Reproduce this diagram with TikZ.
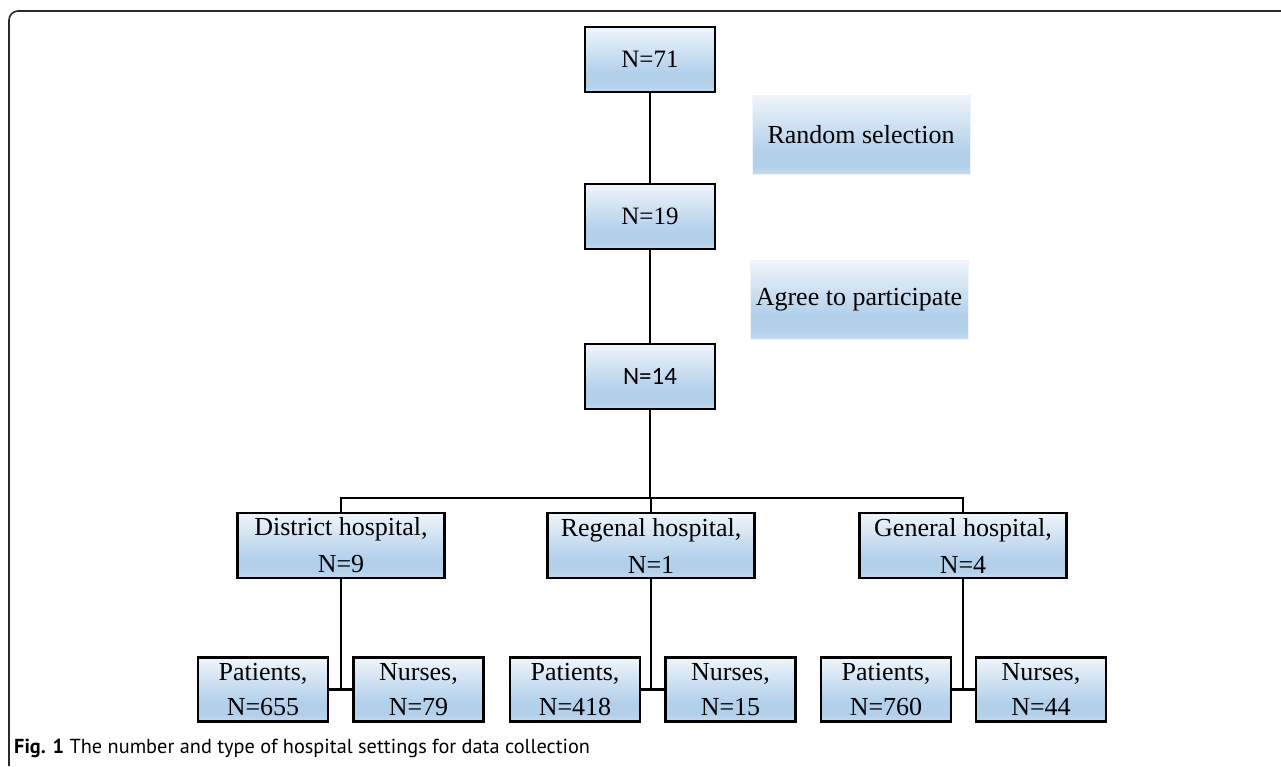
\documentclass[tikz,border=0pt]{standalone}
\usepackage{fontspec}
\setmainfont{Liberation Serif}
\newfontfamily\calfont{Carlito}
\newfontfamily\capfont{PT Sans}
\definecolor{bA}{HTML}{EFF5FB}
\definecolor{bC}{HTML}{B3D0EB}
\definecolor{bD}{HTML}{C6DCF0}
\definecolor{frameC}{HTML}{2A2A2A}
\pgfdeclareverticalshading{boxshade}{100bp}{color(0bp)=(bD); color(25bp)=(bD); color(30bp)=(bC); color(40bp)=(bC); color(75bp)=(bA); color(100bp)=(bA)}
\tikzset{
  box/.style={draw=black, line width=2.5pt, shading=boxshade, minimum width=130pt, minimum height=65pt,
    inner sep=0pt, align=center, font=\fontsize{26}{37}\selectfont},
  hbox/.style={box, minimum width=207pt},
  sbox/.style={box, minimum height=64pt, font=\fontsize{26}{35}\selectfont},
  note/.style={shading=boxshade, draw=bA, line width=0.8pt, minimum width=218pt, minimum height=79pt,
    inner sep=0pt, font=\fontsize{26}{30}\selectfont},
  link/.style={line width=2.4pt, draw=black},
  blink/.style={line width=2.8pt, draw=black}
}
\begin{document}
\begin{tikzpicture}[x=1pt,y=-1pt]
\useasboundingbox (0,0) rectangle (1281,766);
% frame
\draw[frameC, line width=1.6pt] (9,766) -- (9,20) arc[start angle=180, end angle=270, radius=9] -- (1281,11);
% top chain
\node[box, font=\fontsize{25}{30}\selectfont] (n71) at (650,59.5) {N=71};
\node[note] (rand) at (861,134.5) {Random selection};
\node[box, font=\fontsize{25}{30}\selectfont] (n19) at (650,216.5) {N=19};
\node[note] (agree) at (859,299.5) {Agree to participate};
\node[box, font=\calfont\fontsize{25}{30}\selectfont] (n14) at (650,376.5) {N=14};
% hospitals
\node[hbox] (dist) at (341,545.5) {District hospital,\\N=9};
\node[hbox] (reg) at (651,545.5) {Regenal hospital,\\N=1};
\node[hbox] (gen) at (963,545.5) {General hospital,\\N=4};
% staff
\node[sbox] (p1) at (263,689.5) {Patients,\\N=655};
\node[sbox] (s1) at (418.5,689.5) {Nurses,\\N=79};
\node[sbox] (p2) at (575,689.5) {Patients,\\N=418};
\node[sbox] (s2) at (730.5,689.5) {Nurses,\\N=15};
\node[sbox] (p3) at (886,689.5) {Patients,\\N=760};
\node[sbox] (s3) at (1041,689.5) {Nurses,\\N=44};
% connectors
\draw[link] (n71) -- (n19);
\draw[link] (n19) -- (n14);
\draw[blink] (n14.south) -- (n14.south |- 0,498) coordinate (bar);
\draw[link] (dist.north) -- (dist.north |- bar) -- (gen.north |- bar) -- (gen.north);
\draw[link] (reg.north) -- (reg.north |- bar);
\draw[blink] (dist.south) -- (dist.south |- p1.east);
\draw[link] (p1.east) -- (s1.west);
\draw[blink] (reg.south) -- (reg.south |- p2.east);
\draw[link] (p2.east) -- (s2.west);
\draw[blink] (gen.south) -- (gen.south |- p3.east);
\draw[link] (p3.east) -- (s3.west);
% caption
\node[anchor=base west, inner sep=0pt, font=\capfont\fontsize{20.3}{24}\selectfont] (cap) at (14,753)
  {\textbf{Fig. 1} The number and type of hospital settings for data collection};
\end{tikzpicture}
\end{document}
